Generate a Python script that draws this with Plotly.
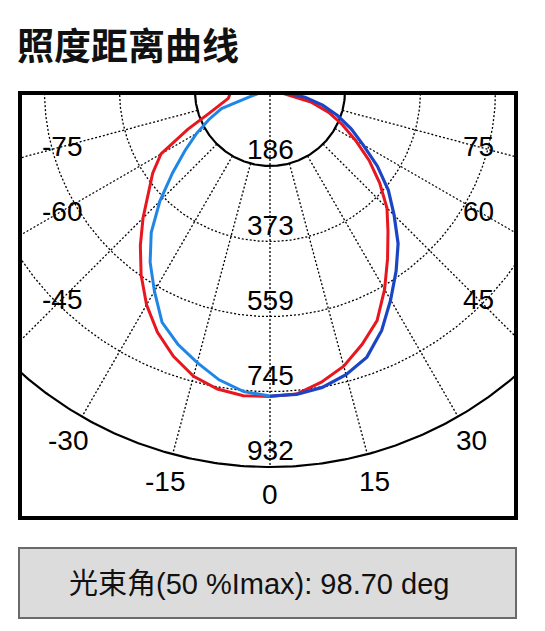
import numpy as np
import plotly.graph_objects as go

# углы (град) и сила света (кд) по двум плоскостям
angles = list(range(-90, 95, 5))
red_cd = [98, 100, 105, 128, 160, 225, 312, 355, 393, 445, 500, 557, 612, 660, 700, 732, 750, 758,
          757, 754, 733, 706, 668, 628, 568, 508, 455, 410, 355, 300, 245, 198, 155, 105, 30, 15, 10]
blue_cd = [5, 12, 25, 45, 128, 167, 210, 257, 315, 386, 458, 518, 573, 633, 668, 697, 727, 748,
           756, 755, 746, 728, 702, 655, 598, 545, 494, 435, 383, 325, 266, 222, 178, 135, 88, 40, 20]
ring_values = [186, 373, 559, 745, 932]
angle_ticks = [-75, -60, -45, -30, -15, 0, 15, 30, 45, 60, 75]
title_text = '照度距离曲线'
beam_text = '光束角(50 %Imax): 98.70 deg'

OFF = 8                            # отступ body на странице
W, H = 545 - OFF, 631 - OFF
L, R, T, B = 20, 516, 93, 518      # рамка графика, px на снимке
cx, cy = 270, 91                   # полюс, px на снимке
k = 932 / 376                      # кд на пиксель
lbl_font = dict(family='Liberation Sans, Arial, sans-serif', size=28, color='black')


def to_xy(theta, r):
    t = np.radians(np.asarray(theta, dtype=float))
    r = np.asarray(r, dtype=float)
    return r * np.sin(t), -r * np.cos(t)


def px(x):
    return (x - L) / (R - L)


def py(y):
    return 1 - (y - T) / (B - T)


fig = go.Figure()

# сетка: окружности
circ = np.linspace(-180, 180, 721)
for v in ring_values:
    gx, gy = to_xy(circ, np.full_like(circ, v))
    solid = v in (ring_values[0], ring_values[-1])
    fig.add_trace(go.Scatter(x=gx, y=gy, mode='lines', hoverinfo='skip',
                             line=dict(color='black', width=2.2 if solid else 1.3,
                                       dash='solid' if solid else '2px,2px')))

# сетка: лучи
for a in [-90] + angle_ticks + [90]:
    r0 = 0 if a == 0 else ring_values[0]
    gx, gy = to_xy([a, a], [r0, ring_values[-1]])
    fig.add_trace(go.Scatter(x=gx, y=gy, mode='lines', hoverinfo='skip',
                             line=dict(color='black', width=1.3, dash='2px,2px')))

# кривые силы света
rx, ry = to_xy(angles, red_cd)
fig.add_trace(go.Scatter(x=rx, y=ry, mode='lines', line=dict(color='#e8161e', width=3)))
bx, by = to_xy(angles, blue_cd)
mid = angles.index(0)
fig.add_trace(go.Scatter(x=bx[:mid + 1], y=by[:mid + 1], mode='lines',
                         line=dict(color='#1f86e8', width=3)))
fig.add_trace(go.Scatter(x=bx[mid:], y=by[mid:], mode='lines',
                         line=dict(color='#1c45c6', width=3.2)))

ann = []
# подписи радиусов
for v in ring_values:
    ann.append(dict(x=0, y=-v + 40, xref='x', yref='y', text=str(v), showarrow=False,
                    font=lbl_font, xanchor='center', yanchor='middle'))
# подписи углов
for a in angle_ticks:
    s = abs(np.sin(np.radians(a)))
    r_lab = 1001 if s == 0 else min(1001, 208 * k / s)
    lx, ly = to_xy(a, r_lab)
    ann.append(dict(x=float(lx), y=float(ly), xref='x', yref='y', text=str(a), showarrow=False,
                    font=lbl_font, xanchor='center', yanchor='middle'))
# заголовок
ann.append(dict(x=px(15), y=py(44), xref='paper', yref='paper', text='<b>' + title_text + '</b>',
                showarrow=False, xanchor='left', yanchor='middle',
                font=dict(family='Noto Sans CJK SC', size=37, color='#111111')))
# угол пучка
ann.append(dict(x=px(259), y=py(584), xref='paper', yref='paper', text=beam_text,
                showarrow=False, xanchor='center', yanchor='middle',
                font=dict(family='Liberation Sans, Noto Sans CJK SC', size=29, color='#111111')))

shapes = [
    dict(type='rect', xref='paper', yref='paper', x0=0, x1=1, y0=0, y1=1,
         line=dict(color='black', width=4), layer='above'),
    dict(type='rect', xref='paper', yref='paper', x0=px(19), x1=px(516), y0=py(548), y1=py(618),
         line=dict(color='#6a6a6a', width=2), fillcolor='#dcdcdc', layer='below'),
]

fig.update_layout(
    width=W, height=H, showlegend=False,
    margin=dict(l=L - OFF, r=W + OFF - R, t=T - OFF, b=H + OFF - B, pad=0),
    paper_bgcolor='white', plot_bgcolor='white',
    xaxis=dict(range=[(L - cx) * k, (R - cx) * k], visible=False, fixedrange=True),
    yaxis=dict(range=[-(B - cy) * k, (cy - T) * k], visible=False, fixedrange=True),
    annotations=ann, shapes=shapes,
)

fig.write_html("out.html")
